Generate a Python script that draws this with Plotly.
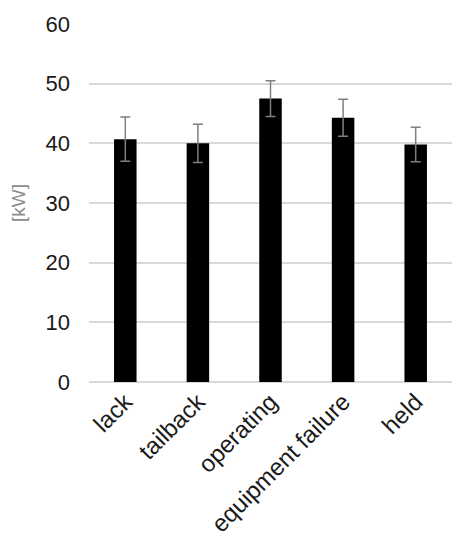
import plotly.graph_objects as go

categories = ["lack", "tailback", "operating", "equipment failure", "held"]
values = [40.7, 40.0, 47.5, 44.3, 39.8]
errors = [3.7, 3.2, 3.0, 3.1, 2.9]
y_ticks = [0, 10, 20, 30, 40, 50, 60]

fig = go.Figure(go.Bar(
    x=categories, y=values,
    marker=dict(color="black", line=dict(width=0)),
    error_y=dict(type="data", array=errors, color="#7f7f7f", thickness=1.5, width=5),
))

fig.update_layout(
    width=454, height=542,
    margin=dict(l=81, r=10, t=16, b=168),
    paper_bgcolor="white", plot_bgcolor="white",
    font=dict(family="Liberation Sans, Arial", color="#1a1a1a"),
    bargap=0.69,
    showlegend=False,
    xaxis=dict(tickangle=-45, tickfont=dict(size=24), showgrid=False, showline=False,
               ticks="", automargin=False),
    yaxis=dict(range=[0, 60], tickvals=y_ticks, tickfont=dict(size=22), automargin=False,
               showgrid=True, gridcolor="#d9d9d9", gridwidth=1.5, zeroline=True,
               zerolinecolor="#d9d9d9", zerolinewidth=1.5, ticks="", ticklabelstandoff=18,
               title=dict(text="[kW]", font=dict(size=19, color="#8c8c8c"), standoff=16)),
)

fig.write_html("out.html")
